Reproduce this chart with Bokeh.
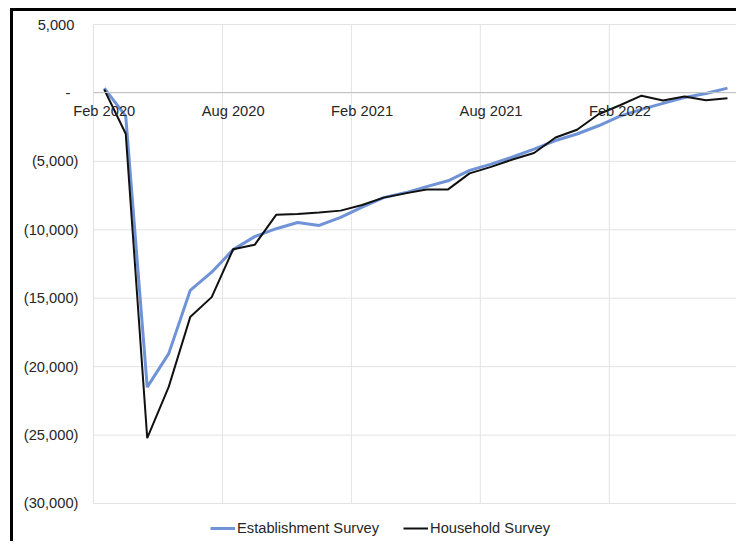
from bokeh.plotting import figure
from bokeh.models import FixedTicker, Legend, LegendItem, ColumnDataSource, LinearAxis, Range1d
from bokeh.embed import file_html
from bokeh.resources import INLINE

months = ["Feb 2020", "Mar 2020", "Apr 2020", "May 2020", "Jun 2020", "Jul 2020",
          "Aug 2020", "Sep 2020", "Oct 2020", "Nov 2020", "Dec 2020", "Jan 2021",
          "Feb 2021", "Mar 2021", "Apr 2021", "May 2021", "Jun 2021", "Jul 2021",
          "Aug 2021", "Sep 2021", "Oct 2021", "Nov 2021", "Dec 2021", "Jan 2022",
          "Feb 2022", "Mar 2022", "Apr 2022", "May 2022", "Jun 2022", "Jul 2022"]

establishment = [350, -1700, -21500, -19050, -14430, -13100, -11450, -10500, -9920, -9470,
                 -9680, -9090, -8350, -7650, -7300, -6850, -6420, -5660, -5200, -4680,
                 -4100, -3480, -3000, -2400, -1700, -1200, -760, -340, -40, 350]

household = [250, -2980, -25220, -21480, -16380, -14920, -11420, -11100, -8910, -8850,
             -8730, -8600, -8190, -7650, -7340, -7050, -7050, -5880, -5400, -4860,
             -4390, -3260, -2690, -1560, -900, -200, -550, -260, -530, -390]

x_tick_idx = [0, 6, 12, 18, 24]
x_tick_labels = ["Feb 2020", "Aug 2020", "Feb 2021", "Aug 2021", "Feb 2022"]
y_ticks = [5000, 0, -5000, -10000, -15000, -20000, -25000, -30000]
y_tick_labels = ["5,000\u00a0", "-\u00a0\u00a0", "(5,000)", "(10,000)", "(15,000)",
                 "(20,000)", "(25,000)", "(30,000)"]

FONT = "Liberation Sans"
TXT = "#262626"
FS = "14.7px"
GRID = "#e3e3e3"

n = len(months)
x_lo, x_hi = -0.5, n - 0.5
y_lo, y_hi = min(y_ticks), max(y_ticks)
x_bounds = [x_lo + 6 * k for k in range(n // 6 + 1)]

src = ColumnDataSource(dict(x=list(range(n)), est=establishment, hh=household, m=months))

p = figure(width=726, height=533, output_backend="svg", toolbar_location=None,
           x_range=Range1d(-4.2226, 29.5605), y_range=Range1d(-32996, 5950),
           min_border=0, min_border_left=0, min_border_right=0,
           min_border_top=0, min_border_bottom=0,
           x_axis_location=None, y_axis_location=None,
           styles={"margin-left": "10px", "margin-top": "8px",
                   "border-left": "3px solid black", "border-top": "3px solid black"})
p.outline_line_color = None
p.background_fill_color = "white"
p.border_fill_color = "white"
p.xgrid.visible = False
p.ygrid.visible = False

# gridlines limited to the plotting area
p.segment(x0=[x_lo] * len(y_ticks), x1=[x_hi] * len(y_ticks), y0=y_ticks, y1=y_ticks,
          line_color=GRID, line_width=1)
p.segment(x0=x_bounds, x1=x_bounds, y0=[y_lo] * len(x_bounds), y1=[y_hi] * len(x_bounds),
          line_color=GRID, line_width=1)

# y axis (labels to the left of the plotting area)
yax = LinearAxis(ticker=FixedTicker(ticks=y_ticks), fixed_location=x_lo)
yax.major_label_overrides = {t: l for t, l in zip(y_ticks, y_tick_labels)}
yax.axis_line_color = None
yax.major_tick_line_color = None
yax.minor_tick_line_color = None
yax.major_label_standoff = 9
yax.major_label_text_font = FONT
yax.major_label_text_font_size = FS
yax.major_label_text_color = TXT
p.add_layout(yax, "left")

# x axis crossing at zero
xax = LinearAxis(ticker=FixedTicker(ticks=x_tick_idx), fixed_location=0, bounds=(x_lo, x_hi))
xax.major_label_overrides = {i: l for i, l in zip(x_tick_idx, x_tick_labels)}
xax.axis_line_color = "#c4c4c4"
xax.axis_line_width = 1
xax.major_tick_line_color = None
xax.minor_tick_line_color = None
xax.major_label_standoff = 4
xax.major_label_text_font = FONT
xax.major_label_text_font_size = FS
xax.major_label_text_color = TXT
p.add_layout(xax, "below")

r_est = p.line("x", "est", source=src, line_color="#6f93d6", line_width=3)
r_hh = p.line("x", "hh", source=src, line_color="#111111", line_width=2)

legend = Legend(items=[LegendItem(label="Establishment Survey", renderers=[r_est]),
                       LegendItem(label="Household Survey", renderers=[r_hh])],
                orientation="horizontal", location=(197, 6),
                glyph_width=25, glyph_height=20, label_standoff=2, spacing=24,
                padding=0, margin=0, border_line_color=None,
                background_fill_alpha=0,
                label_text_font=FONT, label_text_font_size=FS, label_text_color=TXT)
p.add_layout(legend, "center")

open("out.html", "w").write(file_html(p, INLINE))
